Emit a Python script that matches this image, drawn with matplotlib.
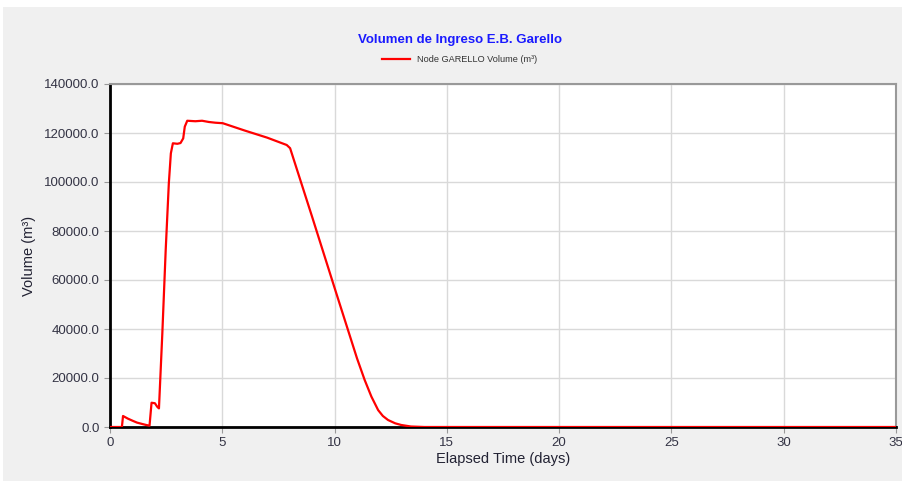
import matplotlib
matplotlib.use("Agg")
import matplotlib.pyplot as plt
from matplotlib.patches import Rectangle

plt.rcParams['font.family'] = ['Liberation Sans', 'DejaVu Sans']

# Node GARELLO volume (m3) vs elapsed time (days)
days = [0.0, 0.53, 0.58, 0.8, 1.0, 1.2, 1.44, 1.6, 1.76, 1.85, 2.0, 2.1, 2.18,
        2.33, 2.48, 2.62, 2.71, 2.8, 3.0, 3.14, 3.26, 3.33, 3.44, 3.8, 4.1,
        4.4, 4.69, 5.02, 6.0, 7.0, 7.87, 8.02, 9.0, 10.0, 11.0, 11.34, 11.64,
        11.94, 12.15, 12.38, 12.7, 12.97, 13.4, 14.0, 20.0, 35.0]
volume = [0, 0, 4490, 3400, 2580, 1800, 1220, 850, 540, 9900, 9700, 8300, 7600,
          38200, 72200, 99500, 111700, 115800, 115600, 115900, 117800, 122600,
          125000, 124800, 125000, 124500, 124200, 124000, 121000, 118100, 115100,
          113800, 85800, 56800, 28000, 19200, 12400, 6900, 4500, 2860, 1500, 820,
          200, 0, 0, 0]

x_ticks = [0, 5, 10, 15, 20, 25, 30, 35]
y_ticks = [0, 20000, 40000, 60000, 80000, 100000, 120000, 140000]

fig = plt.figure(figsize=(9.03, 4.83), dpi=100)
fig.patch.set_facecolor('white')
fig.patches.append(Rectangle((3 / 903, 2 / 483), 1, 474 / 483,
                             transform=fig.transFigure, facecolor='#f0f0f0',
                             edgecolor='none', zorder=-10))

ax = fig.add_axes([110 / 903, 56 / 483, 786 / 903, 343 / 483])
ax.set_facecolor('white')
ax.plot(days, volume, color='#ff0000', linewidth=1.6,
        label='Node GARELLO Volume (m³)', zorder=3)

ax.set_xlim(0, 35)
ax.set_ylim(0, 140000)
ax.set_xticks(x_ticks)
ax.set_yticks(y_ticks)
ax.set_xticklabels([str(t) for t in x_ticks])
ax.set_yticklabels([f'{t:.1f}' for t in y_ticks])
ax.grid(True, color='#d9d9d9', linewidth=1)
ax.set_axisbelow(True)

for side in ['left', 'bottom']:
    ax.spines[side].set_color('black')
    ax.spines[side].set_linewidth(2)
for side in ['top', 'right']:
    ax.spines[side].set_color('#999999')
    ax.spines[side].set_linewidth(1.5)

ax.tick_params(axis='both', labelsize=9.5, labelcolor='#333344',
               color='#999999', length=4)
ax.set_xlabel('Elapsed Time (days)', fontsize=10.5, color='#222233', labelpad=2)
ax.set_ylabel('Volume (m³)', fontsize=10.5, color='#222233', labelpad=6)

fig.text(0.509, 0.918, 'Volumen de Ingreso E.B. Garello', ha='center', va='center',
         fontsize=9.5, fontweight='bold', color='#1a1aff')
fig.legend(loc='center', bbox_to_anchor=(0.509, 0.876), frameon=False,
           fontsize=6.6, handlelength=3, labelcolor='#333333')

fig.savefig('out.png', dpi=100, facecolor=fig.get_facecolor())
